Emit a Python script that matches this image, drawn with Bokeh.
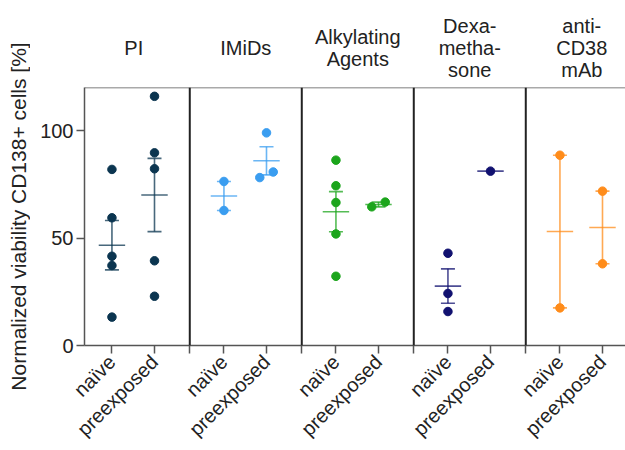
import numpy as np
from bokeh.plotting import figure
from bokeh.layouts import column, row
from bokeh.models import Span, FixedTicker, Range1d
from bokeh.embed import file_html
from bokeh.resources import INLINE

# ---------------- data ----------------
categories = ["PI", "IMiDs", "Alkylating\nAgents", "Dexa-\nmetha-\nsone", "anti-\nCD38\nmAb"]
groups = ["naïve", "preexposed"]
colors = ["#0b3550", "#3a9df0", "#1ca51c", "#111170", "#ff8c1a"]
y_label = "Normalized viability CD138+ cells [%]"

pi_naive = [81.9, 59.4, 41.5, 37.2, 13.2]
pi_pre = [115.9, 89.6, 82.2, 39.4, 22.9]
imid_naive = [76.3, 62.8]
imid_pre = [98.9, 78.1, 80.7]
alk_naive = [86.2, 74.3, 66.5, 51.9, 32.2]
alk_pre = [64.5, 66.7]
dexa_naive = [42.9, 24.2, 15.8]
dexa_pre = [81.1]
cd38_naive = [88.5, 17.5]
cd38_pre = [71.8, 38.0]

series = [
    (pi_naive, pi_pre),
    (imid_naive, imid_pre),
    (alk_naive, alk_pre),
    (dexa_naive, dexa_pre),
    (cd38_naive, cd38_pre),
]
y_ticks = [0, 50, 100]

# ---------------- layout constants ----------------
FONT = "Liberation Sans"
W, H = 625, 450
LAB_W = 30
HEADER_H = 87
x_start, x_end = 0.06, 0.06 + 541 / 112.0
y_start, y_end = 0, 120
xr = Range1d(x_start, x_end)

# ---------------- main plot ----------------
p = figure(width=W - LAB_W, height=H - HEADER_H, output_backend="svg", toolbar_location=None,
           x_range=xr, y_range=Range1d(y_start, y_end),
           min_border_left=84 - LAB_W, min_border_right=0, min_border_top=0, min_border_bottom=105)
p.outline_line_color = None
p.xgrid.visible = False
p.ygrid.visible = False
p.background_fill_color = "white"
p.border_fill_color = "white"

offs = [0.305, 0.685]
tick_pos = []
overrides = {}
for i in range(len(categories)):
    for j, g in enumerate(groups):
        xv = i + offs[j]
        tick_pos.append(xv)
        overrides[xv] = g
for i in range(1, len(categories)):
    tick_pos.append(float(i))
    overrides[float(i)] = ""

p.xaxis.ticker = FixedTicker(ticks=tick_pos)
p.xaxis.major_label_overrides = overrides
p.xaxis.major_label_orientation = np.pi / 4
p.xaxis.major_label_text_font = FONT
p.xaxis.major_label_text_font_size = "20px"
p.xaxis.major_label_text_color = "#222222"
p.xaxis.major_tick_out = 8
p.xaxis.major_tick_in = 0
p.xaxis.minor_tick_line_color = None
p.xaxis.axis_line_color = "#555555"
p.xaxis.axis_line_width = 1.5
p.xaxis.major_tick_line_color = "#555555"
p.xaxis.major_tick_line_width = 1.5
p.xaxis.major_label_standoff = 5

p.yaxis.ticker = FixedTicker(ticks=y_ticks)
p.yaxis.major_label_text_font = FONT
p.yaxis.major_label_text_font_size = "20px"
p.yaxis.major_label_text_color = "#222222"
p.yaxis.major_tick_out = 8
p.yaxis.major_tick_in = 0
p.yaxis.minor_tick_line_color = None
p.yaxis.axis_line_color = "#555555"
p.yaxis.axis_line_width = 1.5
p.yaxis.major_tick_line_color = "#555555"
p.yaxis.major_tick_line_width = 1.5
p.yaxis.major_label_standoff = 3

# top border and separators
p.add_layout(Span(location=y_end, dimension="width", line_color="#555555", line_width=1.5))
for i in range(1, len(categories)):
    p.add_layout(Span(location=i, dimension="height", line_color="#222222", line_width=2))

# ---------------- marks ----------------
mean_hw = 0.118
cap_hw = 0.0625
swarm = 0.06

for i, (grp_vals, col) in enumerate(zip(series, colors)):
    for j, vals in enumerate(grp_vals):
        xc = i + offs[j]
        v = np.array(vals, dtype=float)
        # simple deterministic beeswarm for overlapping points
        order = np.argsort(v)
        xs = np.full(len(v), xc)
        k = 0
        while k < len(order):
            cl = [order[k]]
            while k + 1 < len(order) and v[order[k + 1]] - v[order[k]] < 4:
                k += 1
                cl.append(order[k])
            if len(cl) > 1:
                n = len(cl)
                for m, idx in enumerate(cl):
                    xs[idx] = xc + (m - (n - 1) / 2) * 2 * swarm / max(n - 1, 1)
            k += 1
        mean = v.mean()
        p.segment(x0=[xc - mean_hw], x1=[xc + mean_hw], y0=[mean], y1=[mean],
                  line_color=col, line_width=1.6, line_alpha=0.75)
        if len(v) > 1:
            sem = v.std(ddof=1) / np.sqrt(len(v))
            p.segment(x0=[xc, xc - cap_hw, xc - cap_hw], x1=[xc, xc + cap_hw, xc + cap_hw],
                      y0=[mean - sem, mean - sem, mean + sem], y1=[mean + sem, mean - sem, mean + sem],
                      line_color=col, line_width=1.6, line_alpha=0.75)
        p.scatter(xs, v, size=8.5, fill_color=col, line_color=col)

# ---------------- headers (separate strip sharing x range) ----------------
h = figure(width=W - LAB_W, height=HEADER_H, output_backend="svg", toolbar_location=None,
           x_range=xr, y_range=Range1d(0, HEADER_H),
           min_border_left=84 - LAB_W, min_border_right=0, min_border_top=0, min_border_bottom=0)
h.axis.visible = False
h.grid.visible = False
h.outline_line_color = None
h.background_fill_color = "white"
h.border_fill_color = "white"

hx, hy, ht = [], [], []
for i, cat in enumerate(categories):
    lines = cat.split("\n")
    n = len(lines)
    for li, t in enumerate(lines):
        py = 47 + (li - (n - 1) / 2) * 22
        hx.append(i + 0.5)
        hy.append(HEADER_H - py)
        ht.append(t)
h.text(x=hx, y=hy, text=ht, text_align="center", text_baseline="middle",
       text_font={"value": FONT}, text_font_size="20px", text_color="#222222")

# ---------------- y-axis title strip ----------------
lab = figure(width=LAB_W, height=H, output_backend="svg", toolbar_location=None,
             x_range=Range1d(0, LAB_W), y_range=Range1d(0, H),
             min_border_left=0, min_border_right=0, min_border_top=0, min_border_bottom=0)
lab.axis.visible = False
lab.grid.visible = False
lab.outline_line_color = None
lab.background_fill_color = "white"
lab.border_fill_color = "white"
lab.text(x=[18], y=[H - 216], text=[y_label], angle=np.pi / 2, text_align="center",
         text_baseline="middle", text_font={"value": FONT}, text_font_size="21px",
         text_color="#222222")

layout = row(lab, column(h, p, spacing=0), spacing=0)
open("out.html", "w").write(file_html(layout, INLINE))
